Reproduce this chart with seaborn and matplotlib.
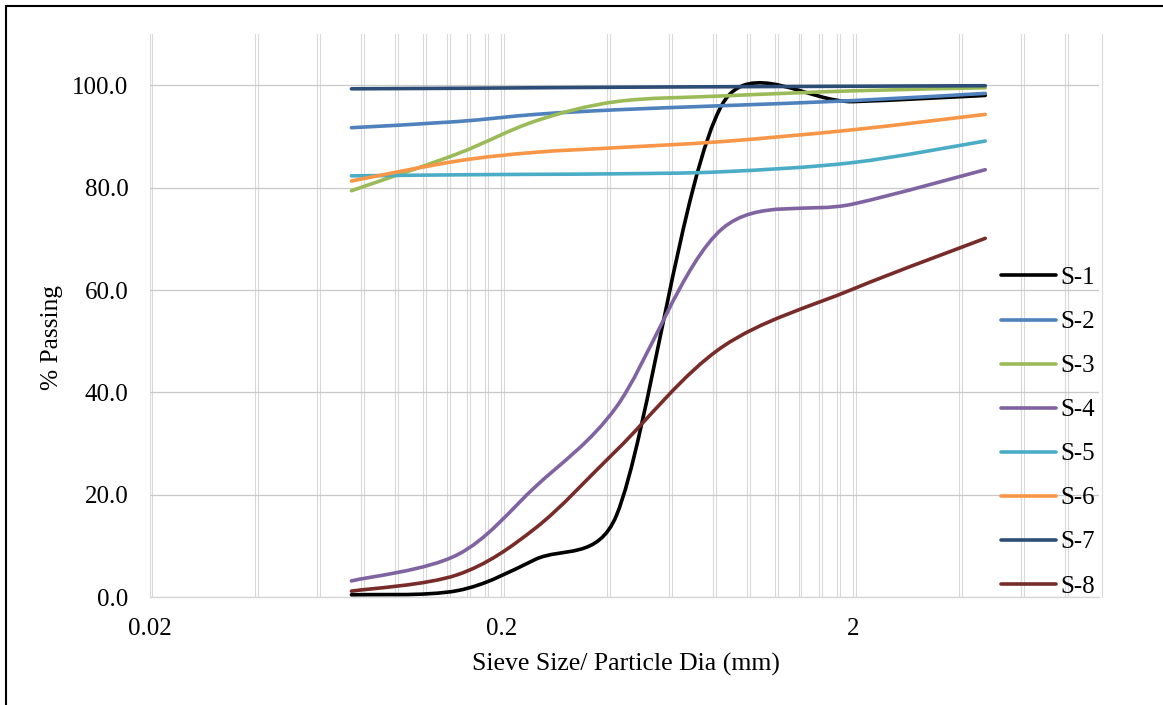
import numpy as np
import pandas as pd
import matplotlib
matplotlib.use("Agg")
import matplotlib.pyplot as plt
import matplotlib.transforms as mtransforms
from matplotlib.path import Path
from matplotlib.patches import PathPatch
from matplotlib.lines import Line2D
from matplotlib.ticker import FixedLocator, FuncFormatter, NullFormatter
import seaborn as sns

# ---------------- data ----------------
sieve_mm = [0.075, 0.15, 0.25, 0.425, 0.85, 2.0, 4.75]
s1 = [0.5, 1.3, 7.4, 16.0, 96.3, 96.8, 98.0]
s2 = [91.7, 92.9, 94.3, 95.2, 96.0, 97.0, 98.4]
s3 = [79.4, 86.6, 93.0, 96.8, 97.9, 98.9, 99.5]
s4 = [3.2, 8.3, 21.6, 37.2, 72.0, 76.8, 83.5]
s5 = [82.3, 82.5, 82.6, 82.7, 83.1, 84.9, 89.1]
s6 = [81.3, 85.2, 86.9, 87.8, 89.0, 91.3, 94.3]
s7 = [99.3, 99.4, 99.5, 99.6, 99.7, 99.8, 99.9]
s8 = [1.2, 4.4, 13.5, 28.7, 48.9, 60.2, 70.1]

sample_names = ["S-1", "S-2", "S-3", "S-4", "S-5", "S-6", "S-7", "S-8"]
series = [s1, s2, s3, s4, s5, s6, s7, s8]
colors = ["#000000", "#4F81BD", "#9BBB59", "#8064A2",
          "#4BACC6", "#F79646", "#2C4D75", "#772C2A"]

x_major = [0.02, 0.2, 2]
x_major_labels = ["0.02", "0.2", "2"]
y_ticks = [0, 20, 40, 60, 80, 100]

df = pd.DataFrame({
    "sample": np.repeat(sample_names, len(sieve_mm)),
    "size": np.tile(sieve_mm, len(sample_names)),
    "passing": np.concatenate(series),
})

# ---------------- style ----------------
sns.set_theme(style="white")
plt.rcParams["font.family"] = ["Liberation Serif", "DejaVu Serif"]
plt.rcParams["axes.unicode_minus"] = False

W, H, DPI = 1163, 705, 100
fig = plt.figure(figsize=(W / DPI, H / DPI), dpi=DPI)
fig.patch.set_facecolor("white")

ax_l, ax_r, ax_t, ax_b = 149.5, 1099.0, 34.0, 597.3
ax = fig.add_axes([ax_l / W, 1 - ax_b / H, (ax_r - ax_l) / W, (ax_b - ax_t) / H])
ax.set_facecolor("white")

LW = 2.6
sns.lineplot(data=df, x="size", y="passing", hue="sample",
             hue_order=sample_names, palette=colors, sort=False,
             estimator=None, legend=False, linewidth=LW, ax=ax)

ax.set_xscale("log")
ax.set_xlim(0.02, 10)
ax.set_ylim(0, 110)


def smooth_path(xs, ys, f=1 / 6):
    """Excel-like smoothed line: cubic Bezier through the data points,
    control points computed in display space."""
    pts = ax.transData.transform(np.column_stack([xs, ys]))
    n = len(pts)

    def handle(i, outgoing):
        p_prev = pts[max(i - 1, 0)]
        p_next = pts[min(i + 1, n - 1)]
        t = p_next - p_prev
        if i == 0 or i == n - 1:
            return t * f
        d_in = np.hypot(*(pts[i] - p_prev))
        d_out = np.hypot(*(p_next - pts[i]))
        d = d_out if outgoing else d_in
        scale = min(1.0, np.sqrt(2 * d / (d_in + d_out)))
        return t * f * scale

    verts = [pts[0]]
    codes = [Path.MOVETO]
    for i in range(n - 1):
        verts += [pts[i] + handle(i, True), pts[i + 1] - handle(i + 1, False), pts[i + 1]]
        codes += [Path.CURVE4] * 3
    verts = ax.transData.inverted().transform(np.array(verts))
    return Path(verts, codes)


# replace the straight seaborn segments by smoothed curves (same data)
for line in list(ax.lines):
    xs, ys = line.get_xdata(), line.get_ydata()
    patch = PathPatch(smooth_path(xs, ys), facecolor="none",
                      edgecolor=line.get_color(), linewidth=LW,
                      capstyle="round", joinstyle="round", zorder=3)
    ax.add_patch(patch)
    line.remove()

# ---------------- axes / grid ----------------
minor = []
for base in x_major:
    for k in range(2, 10):
        v = base * k
        if v <= 10.0001:
            minor.append(v)
ax.xaxis.set_major_locator(FixedLocator(x_major))
ax.xaxis.set_minor_locator(FixedLocator(minor))
ax.xaxis.set_major_formatter(FuncFormatter(
    lambda v, p: x_major_labels[int(np.argmin([abs(np.log10(v / m)) for m in x_major]))]))
ax.xaxis.set_minor_formatter(NullFormatter())
ax.set_yticks(y_ticks)
ax.yaxis.set_major_formatter(FuncFormatter(lambda v, p: f"{v:.1f}"))

VGRID = "#d9d9d9"
ax.grid(False)
ax.grid(True, which="both", axis="x", color=VGRID, linewidth=0.8, zorder=0)
ax.grid(True, which="major", axis="y", color="#c8c8c8", linewidth=0.9, zorder=0)
# Excel's doubled vertical gridlines
offset = ax.get_xaxis_transform() + mtransforms.ScaledTranslation(2.7 / DPI, 0, fig.dpi_scale_trans)
for v in x_major + minor:
    ax.add_line(Line2D([v, v], [0, 1], transform=offset, color=VGRID,
                       linewidth=0.8, zorder=0.5, clip_on=False))
ax.set_axisbelow(True)

for side in ["left", "right", "top"]:
    ax.spines[side].set_visible(False)
ax.spines["bottom"].set_color("#d9d9d9")
ax.spines["bottom"].set_linewidth(1.0)

ax.tick_params(axis="both", which="both", length=0, labelsize=18, colors="black")
ax.tick_params(axis="x", pad=15)
ax.tick_params(axis="y", pad=15.3)

ax.set_xlabel("Sieve Size/ Particle Dia (mm)", fontsize=18.5, color="black")
ax.set_ylabel("% Passing", fontsize=18.3, color="black")
ax.xaxis.set_label_coords((626 - ax_l) / (ax_r - ax_l), (ax_b - 664) / (ax_b - ax_t))
ax.xaxis.label.set_va("center")
ax.yaxis.set_label_coords((52 - ax_l) / (ax_r - ax_l), (ax_b - 337.5) / (ax_b - ax_t))
ax.yaxis.label.set_va("center")

# ---------------- legend ----------------
handles = [Line2D([], [], color=c, linewidth=LW, solid_capstyle="round") for c in colors]
leg = ax.legend(handles, sample_names, loc="upper left",
                bbox_to_anchor=(1001 / W, 1 - 266.7 / H), bbox_transform=fig.transFigure,
                frameon=False, fontsize=18, handlelength=2.2, handletextpad=0.16,
                labelspacing=0.862, borderpad=0, borderaxespad=0)
for t in leg.get_texts():
    t.set_color("black")

# ---------------- chart-area border (left & top visible) ----------------
fig.add_artist(Line2D([5.5 / W, 5.5 / W], [0, 1 - 5.5 / H], transform=fig.transFigure,
                      color="black", linewidth=1.5))
fig.add_artist(Line2D([5.5 / W, 1], [1 - 5.5 / H, 1 - 5.5 / H], transform=fig.transFigure,
                      color="black", linewidth=1.5))

fig.savefig("out.png", dpi=DPI, facecolor="white")
